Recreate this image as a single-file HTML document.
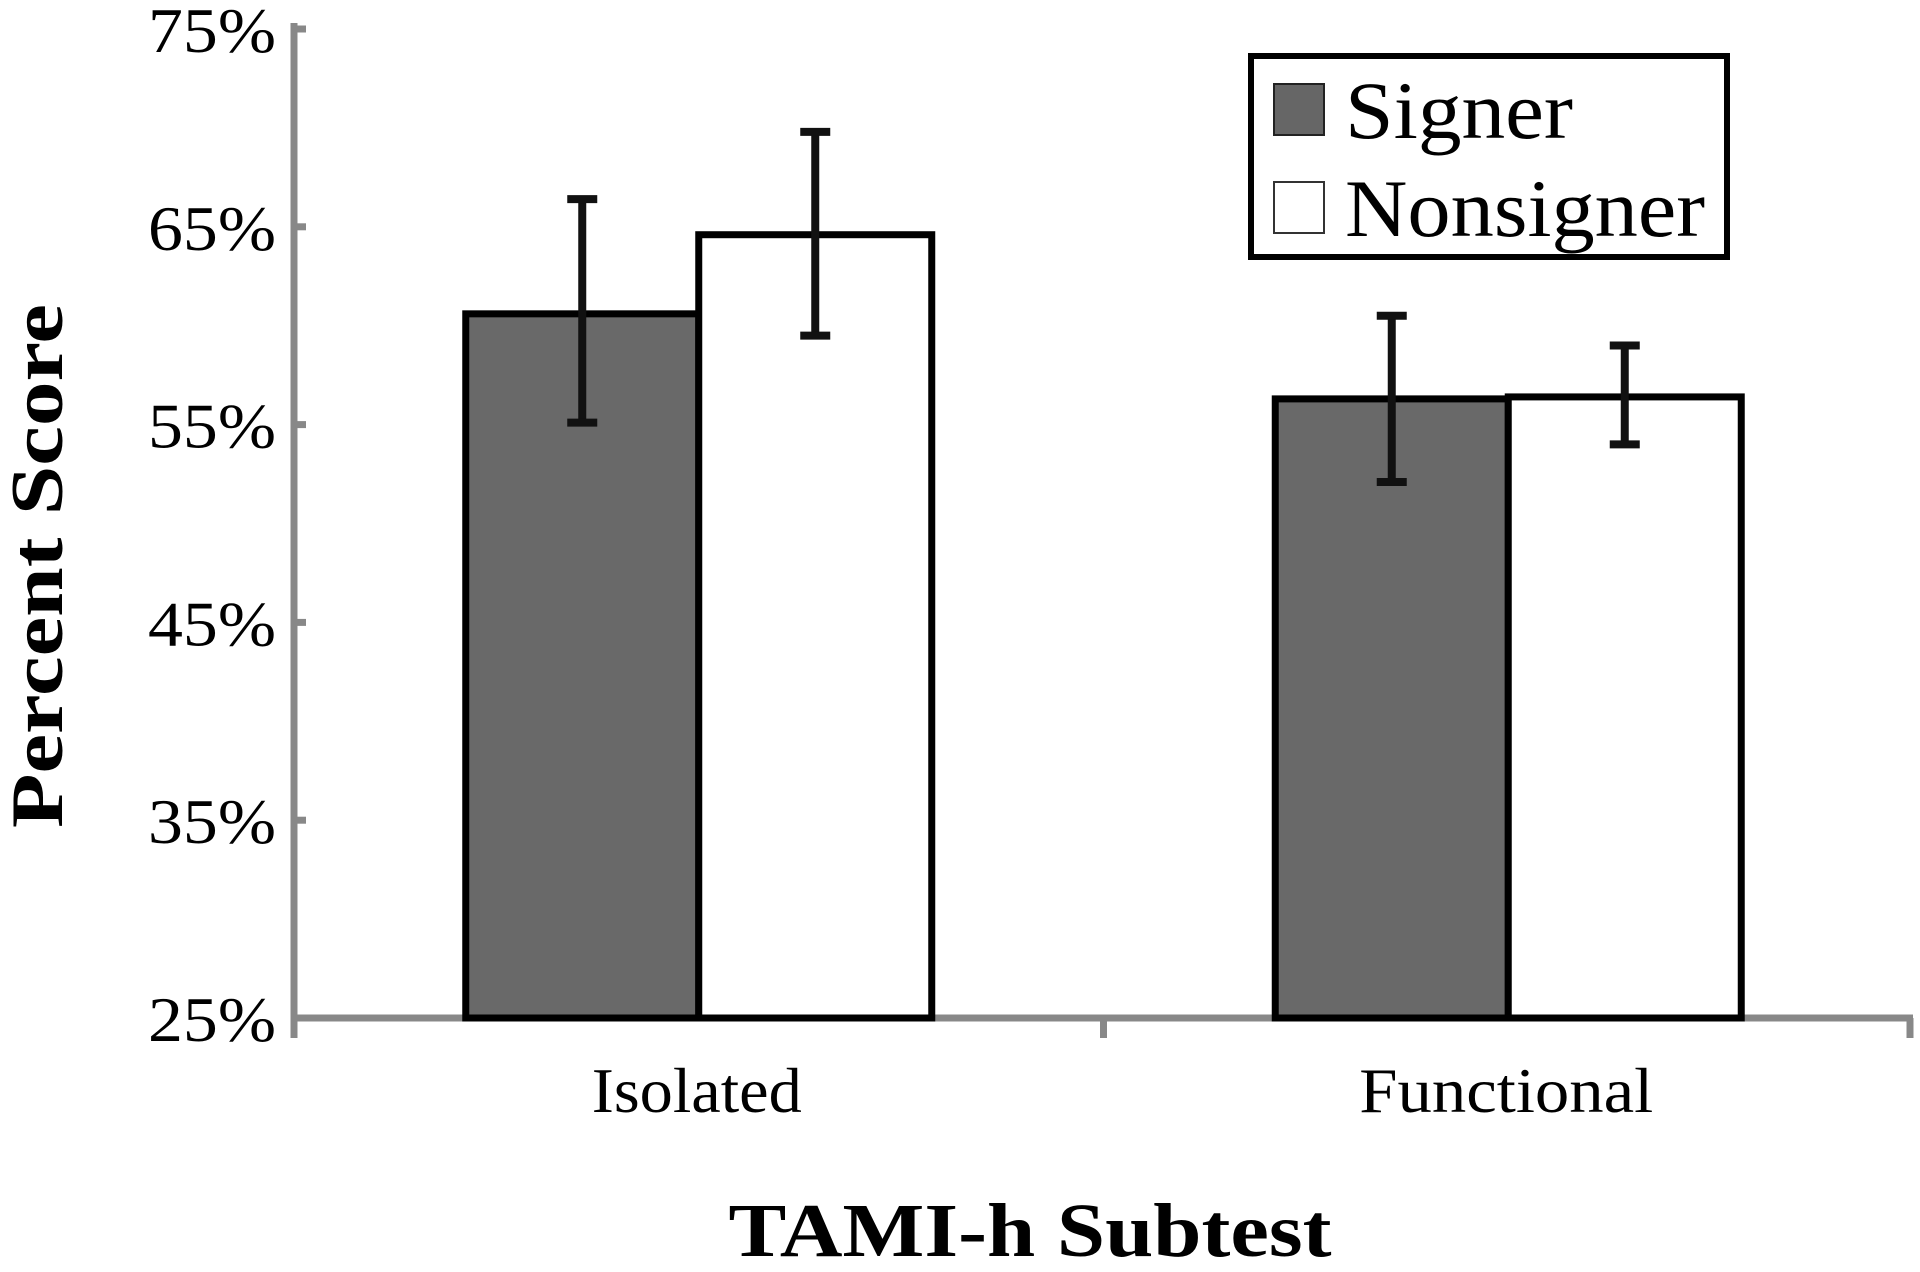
<!DOCTYPE html>
<html><head><meta charset="utf-8"><style>
html,body{margin:0;padding:0;background:#fff;}
svg{display:block;font-family:"Liberation Serif",serif;}
</style></head><body>
<svg id="chart" width="1920" height="1272" viewBox="0 0 1920 1272" xmlns="http://www.w3.org/2000/svg">
<g id="axes"></g>
<g id="bars"></g>
<g id="errs"></g>
<g id="legend">
  <rect x="1251" y="56" width="476" height="201" fill="#fff" stroke="#000" stroke-width="6"/>
  <rect x="1274" y="84" width="50" height="51" fill="#666" stroke="#222" stroke-width="2"/>
  <text x="1345" y="138" font-size="82" textLength="228" lengthAdjust="spacingAndGlyphs">Signer</text>
  <rect x="1274" y="182" width="50" height="51" fill="#fff" stroke="#333" stroke-width="2"/>
  <text x="1345" y="236" font-size="82" textLength="360" lengthAdjust="spacingAndGlyphs">Nonsigner</text>
</g>
<text transform="translate(62,566) rotate(-90)" text-anchor="middle" font-size="74" font-weight="bold" textLength="524" lengthAdjust="spacingAndGlyphs">Percent Score</text>
<text x="1030" y="1256" text-anchor="middle" font-size="76" font-weight="bold" textLength="603" lengthAdjust="spacingAndGlyphs">TAMI-h Subtest</text>
</svg>
<script>
const categories = ["Isolated", "Functional"];
const seriesNames = ["Signer", "Nonsigner"];
const signerValues = [60.6, 56.3];
const nonsignerValues = [64.6, 56.4];
const signerErrLow = [55.1, 52.1];
const signerErrHigh = [66.4, 60.5];
const nonsignerErrLow = [59.5, 54.0];
const nonsignerErrHigh = [69.8, 59.0];
const yTicks = [25, 35, 45, 55, 65, 75];
const yTickLabels = ["25%", "35%", "45%", "55%", "65%", "75%"];

const NS = "http://www.w3.org/2000/svg";
const yMin = 25, yMax = 75, yTop = 29, yBot = 1018;
const xLeft = 294, xRight = 1913;
function y(v){ return yBot - (v - yMin) / (yMax - yMin) * (yBot - yTop); }
const groupW = (xRight - xLeft) / categories.length;
const barW = 233;
const catLabelLen = [210, 294];
function xBar(ci, si){ const c = xLeft + groupW * (ci + 0.5); return c - barW + si * barW; }
function mk(tag, attrs, parent){ const e = document.createElementNS(NS, tag); for (const k in attrs) e.setAttribute(k, attrs[k]); parent.appendChild(e); return e; }

const axes = document.getElementById('axes');
let el = mk('line', {x1:xLeft, y1:yTop-6, x2:xLeft, y2:yBot+20, stroke:'#888', 'stroke-width':7}, axes);


el = mk('line', {x1:xLeft, y1:yBot, x2:xRight, y2:yBot, stroke:'#888', 'stroke-width':7}, axes);


yTicks.forEach((t, i) => {
  const ty = y(t);
  const tk = mk('line', {x1:xLeft, y1:ty, x2:xLeft+12, y2:ty, stroke:'#888', 'stroke-width':7}, axes);
  
  
  const lb = mk('text', {x:276, y:ty+23, 'text-anchor':'end', 'font-size':64, textLength:128, lengthAdjust:'spacingAndGlyphs'}, axes);
  lb.textContent = yTickLabels[i];
  
  
});
for (let i = 0; i <= categories.length; i++) {
  const tx = xLeft + groupW * i + (i === categories.length ? -3 : 0);
  const tk = mk('line', {x1:tx, y1:yBot, x2:tx, y2:yBot+20, stroke:'#888', 'stroke-width':7}, axes);
  
  
}
categories.forEach((c, i) => {
  const lb = mk('text', {x:xLeft + groupW*(i+0.5) - 2, y:1112, 'text-anchor':'middle', 'font-size':64, textLength:catLabelLen[i], lengthAdjust:'spacingAndGlyphs'}, axes);
  lb.textContent = c;
  
  
});

const bars = document.getElementById('bars');
const errs = document.getElementById('errs');
const vals = [signerValues, nonsignerValues];
const lows = [signerErrLow, nonsignerErrLow];
const highs = [signerErrHigh, nonsignerErrHigh];
const fills = ['#696969', '#ffffff'];
categories.forEach((c, ci) => {
  [0, 1].forEach(si => {
    const bx = xBar(ci, si), top = y(vals[si][ci]);
    const b = mk('rect', {x:bx, y:top, width:barW, height:yBot-top, fill:fills[si], stroke:'#000', 'stroke-width':7}, bars);
    
    
    const cx = bx + barW/2;
    const g = mk('g', {stroke:'#111', 'stroke-width':8}, errs);
    
    
    mk('line', {x1:cx, y1:y(highs[si][ci]), x2:cx, y2:y(lows[si][ci])}, g);
    mk('line', {x1:cx-15, y1:y(highs[si][ci]), x2:cx+15, y2:y(highs[si][ci])}, g);
    mk('line', {x1:cx-15, y1:y(lows[si][ci]), x2:cx+15, y2:y(lows[si][ci])}, g);
  });
});
</script>
</body></html>
